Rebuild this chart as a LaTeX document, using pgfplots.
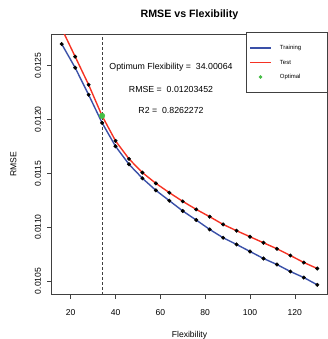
\documentclass[border=0pt]{standalone}
\usepackage{fontspec}
\setmainfont{Liberation Sans}
\usepackage{pgfplots}
\usepackage{pgfplotstable}
\pgfplotsset{compat=1.18}
\definecolor{trainblue}{RGB}{58,80,168}
\definecolor{testred}{RGB}{245,50,35}
\definecolor{optgreen}{RGB}{70,190,70}
\pgfplotsset{
  linelegend/.style={legend image code/.code={\draw[##1] (0bp,0bp) -- (21bp,0bp);}},
  dotlegend/.style={legend image code/.code={\path (0bp,0bp) (21bp,0bp); \draw[##1] plot coordinates {(10.5bp,0bp)};}},
}
\pgfplotstableread{
x train test
16 0.0127010 0.0128450
22 0.0124810 0.0125840
28 0.0122300 0.0123230
34 0.0119690 0.0120345
40 0.0117514 0.0118017
46 0.0115838 0.0116341
52 0.0114534 0.0115065
58 0.0113417 0.0114069
64 0.0112458 0.0113203
70 0.0111499 0.0112393
76 0.0110661 0.0111648
82 0.0109786 0.0110968
88 0.0109013 0.0110251
94 0.0108389 0.0109665
100 0.0107737 0.0109106
106 0.0107086 0.0108547
112 0.0106527 0.0107989
118 0.0105875 0.0107365
124 0.0105316 0.0106713
130 0.0104637 0.0106154
}\datatable
\begin{document}
\begin{tikzpicture}
\useasboundingbox (-51.5bp,-44.5bp) rectangle (276.5bp,294.5bp);
\begin{axis}[
  scale only axis,
  width=276bp, height=260bp,
  xmin=11.44, xmax=134.56,
  ymin=0.010374, ymax=0.01279,
  axis line style={black!75, line width=0.6bp},
  tick align=outside,
  tick pos=left,
  major tick length=4bp,
  every tick/.style={black!75, line width=0.6bp},
  xtick={20,40,60,80,100,120},
  xticklabels={20,40,60,80,100,120},
  ytick={0.0105,0.0110,0.0115,0.0120,0.0125},
  yticklabels={0.0105,0.0110,0.0115,0.0120,0.0125},
  scaled y ticks=false,
  tick label style={font=\fontsize{8.6}{10}\selectfont},
  xticklabel style={yshift=-16.9bp, anchor=base, inner sep=0pt},
  yticklabel style={xshift=-6.7bp, rotate=90, anchor=base, inner sep=0pt},
  title={\textbf{RMSE vs Flexibility}},
  title style={font=\fontsize{10.7}{12}\selectfont, at={(axis description cs:0.5,1)}, anchor=base, yshift=11.2bp, inner sep=0pt},
  xlabel={Flexibility},
  xlabel style={font=\fontsize{8.6}{10}\selectfont, at={(axis description cs:0.5,0)}, anchor=base, yshift=-42.6bp, inner sep=0pt},
  ylabel={RMSE},
  ylabel style={font=\fontsize{8.6}{10}\selectfont, at={(axis description cs:0,0.5)}, anchor=base, yshift=35.1bp, inner sep=0pt},
  legend style={at={(rel axis cs:1,1)}, anchor=north east, yshift=2bp, draw=black!75, line width=0.5bp,
    font=\fontsize{6}{7}\selectfont, inner xsep=3.4bp, inner ysep=12.3bp, row sep=8.5bp, column sep=6.3bp,
    nodes={text width=41.9bp, inner xsep=2bp, inner ysep=0bp, text height=4.5bp, text depth=1.5bp, align=left},
    cells={anchor=west}},
]
\addplot[trainblue, line width=1.4bp, forget plot] table[x=x, y=train] {\datatable};
\addplot[testred, line width=1.4bp, forget plot] table[x=x, y=test] {\datatable};
\addplot[black!75, dash pattern=on 3bp off 2bp, line width=0.5bp, forget plot] coordinates {(34.00064,0.0100) (34.00064,0.0131)};
\addplot[only marks, mark=*, mark size=1.8bp, black, clip marker paths=true, forget plot] table[x=x, y=train] {\datatable};
\addplot[only marks, mark=*, mark size=1.8bp, black, clip marker paths=true, forget plot] table[x=x, y=test] {\datatable};
\addplot[only marks, mark=*, mark size=2.8bp, optgreen, forget plot] coordinates {(34.00064,0.01203452)};
\node[anchor=base, font=\fontsize{8.8}{10}\selectfont, inner sep=0pt] at (axis cs:64.75,0.012468) {Optimum Flexibility = \ 34.00064};
\node[anchor=base, font=\fontsize{8.8}{10}\selectfont, inner sep=0pt] at (axis cs:64.75,0.012254) {RMSE = \ 0.01203452};
\node[anchor=base, font=\fontsize{8.8}{10}\selectfont, inner sep=0pt] at (axis cs:64.75,0.012056) {R2 = \ 0.8262272};
\addlegendimage{trainblue, line width=1.2bp, linelegend}
\addlegendentry{Training}
\addlegendimage{testred, line width=1.2bp, linelegend}
\addlegendentry{Test}
\addlegendimage{only marks, mark=*, mark size=1.5bp, optgreen, dotlegend}
\addlegendentry{Optimal}
\end{axis}
\end{tikzpicture}
\end{document}
